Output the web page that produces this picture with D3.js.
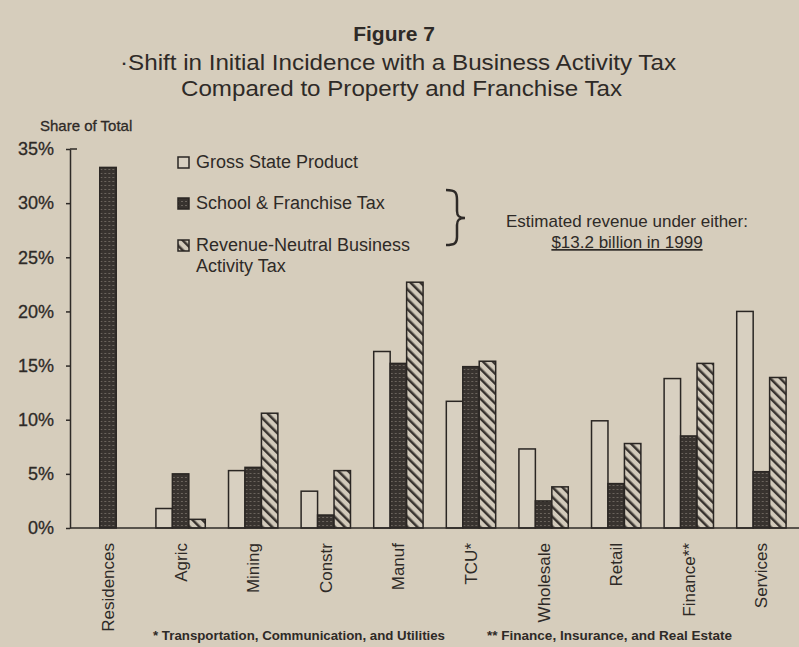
<!DOCTYPE html>
<html>
<head>
<meta charset="utf-8">
<script src="https://cdn.jsdelivr.net/npm/d3@7"></script>
<style>
  html, body { margin: 0; padding: 0; background: #d6cdbc; }
  svg { display: block; font-family: "Liberation Sans", Arial, sans-serif; }
</style>
</head>
<body>
<script>
// data
const categories = ['Residences', 'Agric', 'Mining', 'Constr', 'Manuf', 'TCU*', 'Wholesale', 'Retail', 'Finance**', 'Services'];
const seriesNames = ['Gross State Product', 'School & Franchise Tax', 'Revenue-Neutral Business Activity Tax'];
const gsp    = [null, 1.8, 5.3, 3.4, 16.3, 11.7, 7.3, 9.9, 13.8, 20.0];
const school = [33.3, 5.0, 5.6, 1.2, 15.2, 14.9, 2.5, 4.1, 8.5, 5.2];
const bat    = [null, 0.8, 10.6, 5.3, 22.7, 15.4, 3.8, 7.8, 15.2, 13.9];
const yTicks = [0, 5, 10, 15, 20, 25, 30, 35];

const ink = '#2e2a27';
const width = 799, height = 647;

const svg = d3.select('body').append('svg')
  .attr('width', width)
  .attr('height', height);

const defs = svg.append('defs');

// stippled dark fill
const dots = defs.append('pattern')
  .attr('id', 'dots')
  .attr('patternUnits', 'userSpaceOnUse')
  .attr('width', 4).attr('height', 4);
dots.append('rect').attr('width', 4).attr('height', 4).attr('fill', '#38332f');
dots.append('rect').attr('x', 1).attr('y', 1).attr('width', 2).attr('height', 1).attr('fill', '#6b645d');

// diagonal hatch, running top-left to bottom-right
const hatch = defs.append('pattern')
  .attr('id', 'hatch')
  .attr('patternUnits', 'userSpaceOnUse')
  .attr('width', 7).attr('height', 7)
  .attr('patternTransform', 'rotate(-45)');
hatch.append('rect').attr('width', 7).attr('height', 7).attr('fill', '#d2cabb');
hatch.append('line')
  .attr('x1', 0).attr('y1', 0).attr('x2', 0).attr('y2', 7)
  .attr('stroke', '#38332f').attr('stroke-width', 5);

const fills = ['#d8d0c1', 'url(#dots)', 'url(#hatch)'];

const x = d3.scaleBand()
  .domain(d3.range(11))
  .range([71.7, 870.3])
  .paddingInner(0.32)
  .paddingOuter(0.16);

const xInner = d3.scaleBand()
  .domain(d3.range(3))
  .range([0, x.bandwidth()]);

const y = d3.scaleLinear()
  .domain([0, 35])
  .range([528, 149]);

// titles
svg.append('text')
  .attr('x', 394).attr('y', 41)
  .attr('text-anchor', 'middle')
  .attr('font-size', 21).attr('font-weight', 'bold')
  .attr('fill', ink)
  .text('Figure 7');

svg.append('text')
  .attr('x', 120).attr('y', 70)
  .attr('font-size', 22)
  .attr('fill', ink)
  .attr('textLength', 556).attr('lengthAdjust', 'spacingAndGlyphs')
  .text('·Shift in Initial Incidence with a Business Activity Tax');

svg.append('text')
  .attr('x', 181).attr('y', 96)
  .attr('font-size', 22)
  .attr('fill', ink)
  .attr('textLength', 441).attr('lengthAdjust', 'spacingAndGlyphs')
  .text('Compared to Property and Franchise Tax');

svg.append('text')
  .attr('x', 40).attr('y', 131)
  .attr('font-size', 15)
  .attr('fill', ink)
  .attr('stroke', ink).attr('stroke-width', 0.3)
  .text('Share of Total');

// y axis
const yAxis = svg.append('g')
  .attr('transform', 'translate(70,0)')
  .call(d3.axisLeft(y).tickValues(yTicks).tickFormat(d => d + '%').tickSize(4).tickSizeOuter(0));
yAxis.select('.domain').attr('stroke', ink).attr('stroke-width', 1.5);
yAxis.selectAll('.tick line').attr('stroke', ink).attr('stroke-width', 1.5);
yAxis.selectAll('.tick text')
  .attr('x', -16)
  .attr('font-size', 18)
  .attr('font-family', '"Liberation Sans", Arial, sans-serif')
  .attr('fill', ink)
  .attr('stroke', ink).attr('stroke-width', 0.3);
// little hook at the top of the axis
svg.append('line')
  .attr('x1', 70).attr('x2', 77)
  .attr('y1', y(35)).attr('y2', y(35))
  .attr('stroke', ink).attr('stroke-width', 1.5);

// bars
const rows = categories.map((c, i) => ({ c, i, vals: [gsp[i], school[i], bat[i]] }));

const groups = svg.selectAll('g.grp')
  .data(rows)
  .enter().append('g')
  .attr('class', 'grp')
  .attr('transform', d => `translate(${x(d.i)},0)`);

groups.selectAll('rect')
  .data(d => d.vals.map((v, k) => ({ v, k })).filter(e => e.v !== null))
  .enter().append('rect')
  .attr('x', e => xInner(e.k))
  .attr('y', e => y(e.v))
  .attr('width', xInner.bandwidth())
  .attr('height', e => y(0) - y(e.v))
  .attr('fill', e => fills[e.k])
  .attr('stroke', '#2a2623')
  .attr('stroke-width', 1.5);

// baseline
svg.append('line')
  .attr('x1', 70).attr('x2', width)
  .attr('y1', y(0)).attr('y2', y(0))
  .attr('stroke', ink).attr('stroke-width', 1.5);

// category labels
groups.append('text')
  .attr('transform', d => `translate(${x.bandwidth() / 2},543) rotate(-90)`)
  .attr('text-anchor', 'end')
  .attr('dy', '0.35em')
  .attr('font-size', 17)
  .attr('fill', ink)
  .text(d => d.c);

// legend
const legendY = [168, 209, 251];
const legend = svg.append('g');
legend.selectAll('rect')
  .data(seriesNames)
  .enter().append('rect')
  .attr('x', 178)
  .attr('y', (d, i) => legendY[i] - 11)
  .attr('width', 11).attr('height', 11)
  .attr('fill', (d, i) => fills[i])
  .attr('stroke', '#2a2623').attr('stroke-width', 1.5);

const legendLines = [['Gross State Product'], ['School & Franchise Tax'], ['Revenue-Neutral Business', 'Activity Tax']];
legend.selectAll('text')
  .data(legendLines)
  .enter().append('text')
  .attr('x', 196)
  .attr('y', (d, i) => legendY[i])
  .attr('font-size', 18)
  .attr('fill', ink)
  .each(function(d) {
    d3.select(this).selectAll('tspan')
      .data(d)
      .enter().append('tspan')
      .attr('x', 196)
      .attr('dy', (t, j) => j === 0 ? 0 : 21)
      .text(t => t);
  });

// brace
svg.append('path')
  .attr('d', 'M446,190 C456,190 457,193 457,200 L457,211 C457,216 459,218 465,218 C459,218 457,220 457,225 L457,237 C457,243 455,245 446,245')
  .attr('fill', 'none')
  .attr('stroke', ink)
  .attr('stroke-width', 2.5);

svg.append('text')
  .attr('x', 627).attr('y', 227)
  .attr('text-anchor', 'middle')
  .attr('font-size', 17)
  .attr('fill', ink)
  .text('Estimated revenue under either:');

svg.append('text')
  .attr('x', 627).attr('y', 248)
  .attr('text-anchor', 'middle')
  .attr('font-size', 17)
  .attr('fill', ink)
  .attr('text-decoration', 'underline')
  .text('$13.2 billion in 1999');

// footnotes
svg.append('text')
  .attr('x', 153).attr('y', 640)
  .attr('font-size', 13).attr('font-weight', 'bold')
  .attr('fill', ink)
  .attr('textLength', 292).attr('lengthAdjust', 'spacingAndGlyphs')
  .text('* Transportation, Communication, and Utilities');

svg.append('text')
  .attr('x', 487).attr('y', 640)
  .attr('font-size', 13).attr('font-weight', 'bold')
  .attr('fill', ink)
  .attr('textLength', 245).attr('lengthAdjust', 'spacingAndGlyphs')
  .text('** Finance, Insurance, and Real Estate');
</script>
</body>
</html>
